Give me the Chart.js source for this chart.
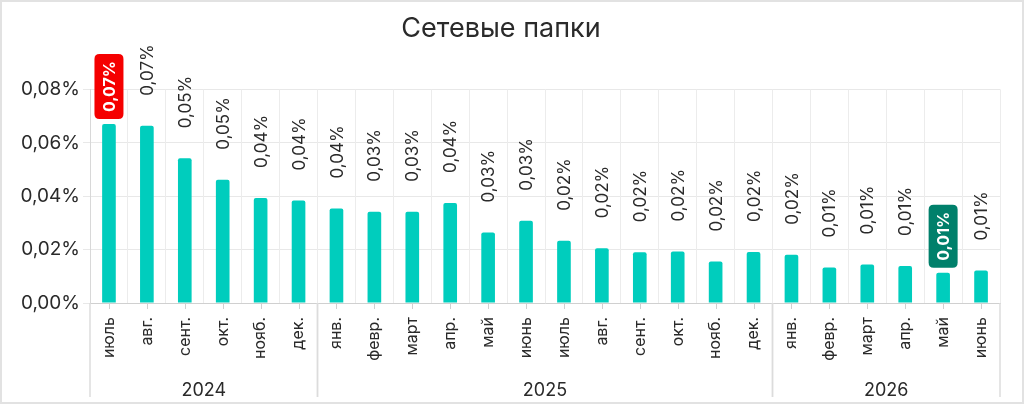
<!DOCTYPE html>
<html>
<head>
<meta charset="utf-8">
<script src="https://cdn.jsdelivr.net/npm/chart.js@4"></script>
<style>
  html, body { margin: 0; padding: 0; background: #fff; }
  #wrap { width: 1024px; height: 404px; position: relative; box-sizing: border-box; border: 2px solid #e2e2e2; }
</style>
</head>
<body>
<div id="wrap"><canvas id="chart"></canvas></div>
<script>
// месяцы и годы
const months = ['июль', 'авг.', 'сент.', 'окт.', 'нояб.', 'дек.',
    'янв.', 'февр.', 'март', 'апр.', 'май', 'июнь', 'июль', 'авг.', 'сент.', 'окт.', 'нояб.', 'дек.',
    'янв.', 'февр.', 'март', 'апр.', 'май', 'июнь'];
const years = ['2024', '2025', '2026'];
const yearSizes = [6, 12, 6];

// доля, %
const values = [0.0670, 0.0664, 0.0542, 0.0462, 0.0393, 0.0384,
    0.0354, 0.0342, 0.0342, 0.0375, 0.0264, 0.0308, 0.0233, 0.0205, 0.0190, 0.0193, 0.0155, 0.0191,
    0.0181, 0.0133, 0.0144, 0.0139, 0.0113, 0.0122];

const yTicks = [0, 0.02, 0.04, 0.06, 0.08];

const FONT = 'Inter, "Noto Sans", sans-serif';
const fmt = v => v.toFixed(2).replace('.', ',') + '%';

const maxIdx = values.indexOf(Math.max(...values));
const minIdx = values.indexOf(Math.min(...values));

function roundRect(ctx, x, y, w, h, r) {
    ctx.beginPath();
    ctx.moveTo(x + r, y);
    ctx.lineTo(x + w - r, y);
    ctx.quadraticCurveTo(x + w, y, x + w, y + r);
    ctx.lineTo(x + w, y + h - r);
    ctx.quadraticCurveTo(x + w, y + h, x + w - r, y + h);
    ctx.lineTo(x + r, y + h);
    ctx.quadraticCurveTo(x, y + h, x, y + h - r);
    ctx.lineTo(x, y + r);
    ctx.quadraticCurveTo(x, y, x + r, y);
    ctx.closePath();
}

// подписи над столбцами
const barLabels = {
    id: 'barLabels',
    afterDatasetsDraw(chart) {
        const ctx = chart.ctx;
        const meta = chart.getDatasetMeta(0);
        meta.data.forEach((bar, i) => {
            const text = fmt(values[i]);
            ctx.save();
            if (i === maxIdx || i === minIdx) {
                ctx.font = 'bold 16px ' + FONT;
                const w = ctx.measureText(text).width;
                const h = w + 14;
                const bw = 29;
                ctx.fillStyle = i === maxIdx ? '#f50000' : '#00806b';
                roundRect(ctx, bar.x - bw / 2, bar.y - 5 - h, bw, h, 5);
                ctx.fill();
                ctx.translate(bar.x, bar.y - 5 - h / 2);
                ctx.rotate(-Math.PI / 2);
                ctx.fillStyle = '#fff';
                ctx.textAlign = 'center';
                ctx.textBaseline = 'middle';
                ctx.fillText(text, 0, 1);
            } else {
                ctx.font = '17px ' + FONT;
                ctx.translate(bar.x, bar.y - 30);
                ctx.rotate(-Math.PI / 2);
                ctx.fillStyle = '#2a2a2a';
                ctx.textAlign = 'left';
                ctx.textBaseline = 'middle';
                ctx.fillText(text, 0, 1);
            }
            ctx.restore();
        });
    }
};

// годы под месяцами
const yearAxis = {
    id: 'yearAxis',
    afterDraw(chart) {
        const ctx = chart.ctx;
        const x = chart.scales.x;
        const area = chart.chartArea;
        const half = (x.getPixelForValue(1) - x.getPixelForValue(0)) / 2;
        ctx.save();
        // засечки по центрам категорий
        ctx.strokeStyle = '#d0d0d0';
        ctx.lineWidth = 1;
        months.forEach((m, i) => {
            const px = Math.round(x.getPixelForValue(i)) + 0.5;
            ctx.beginPath();
            ctx.moveTo(px, area.bottom);
            ctx.lineTo(px, area.bottom + 6);
            ctx.stroke();
        });
        let start = 0;
        ctx.strokeStyle = '#dcdcdc';
        ctx.lineWidth = 1.5;
        ctx.font = '18px ' + FONT;
        ctx.fillStyle = '#2a2a2a';
        ctx.textAlign = 'center';
        ctx.textBaseline = 'middle';
        years.forEach((y, k) => {
            const x0 = x.getPixelForValue(start) - half;
            const x1 = x.getPixelForValue(start + yearSizes[k] - 1) + half;
            [x0, x1].forEach(px => {
                ctx.beginPath();
                ctx.moveTo(px, area.bottom);
                ctx.lineTo(px, 395);
                ctx.stroke();
            });
            ctx.fillText(y, (x0 + x1) / 2, 389);
            start += yearSizes[k];
        });
        ctx.restore();
    }
};

const ctx = document.getElementById('chart').getContext('2d');
new Chart(ctx, {
    type: 'bar',
    data: {
        labels: months,
        datasets: [{
            data: values,
            backgroundColor: '#00cdbd',
            borderRadius: 2,
            borderSkipped: 'bottom',
            barPercentage: 0.36,
            categoryPercentage: 1
        }]
    },
    options: {
        responsive: true,
        maintainAspectRatio: false,
        animation: false,
        layout: {
            padding: { left: 0, right: 22, top: 0, bottom: 0 }
        },
        plugins: {
            legend: { display: false },
            tooltip: { enabled: false },
            title: {
                display: true,
                text: 'Сетевые папки',
                color: '#2a2a2a',
                font: { family: FONT, size: 27, weight: 'normal' },
                padding: { top: 11, bottom: 44 }
            }
        },
        scales: {
            y: {
                min: 0,
                max: 0.08,
                afterBuildTicks(scale) {
                    scale.ticks = yTicks.map(v => ({ value: v }));
                },
                afterFit(scale) {
                    scale.width = 88;
                },
                grid: {
                    color: '#e8e8e8',
                    tickLength: 7
                },
                border: { color: '#d8d8d8' },
                ticks: {
                    color: '#2a2a2a',
                    padding: 3,
                    font: { family: FONT, size: 19 },
                    callback: v => fmt(v)
                }
            },
            x: {
                afterFit(scale) {
                    scale.height = 99;
                },
                grid: {
                    offset: true,
                    color: '#ececec',
                    drawTicks: false
                },
                border: { color: '#d0d0d0' },
                ticks: {
                    color: '#2a2a2a',
                    padding: 14,
                    minRotation: 90,
                    maxRotation: 90,
                    autoSkip: false,
                    font: { family: FONT, size: 16 }
                }
            }
        }
    },
    plugins: [barLabels, yearAxis]
});
</script>
</body>
</html>
